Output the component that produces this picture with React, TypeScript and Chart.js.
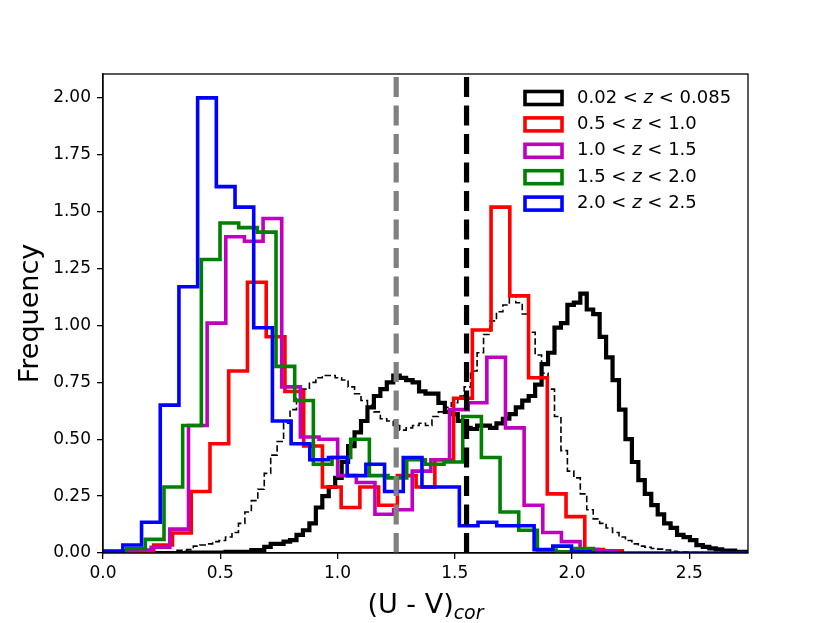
import { useEffect, useRef } from "react"
import { Chart, registerables } from "chart.js"

Chart.register(...registerables)

const FONT = "'DejaVu Sans', sans-serif"

const xTicks = [0, 0.5, 1.0, 1.5, 2.0, 2.5]
const yTicks = [0, 0.25, 0.5, 0.75, 1.0, 1.25, 1.5, 1.75, 2.0]

// 0.02 < z < 0.085 (thick black), fine bins
const lowZStart = 0
const lowZWidth = 0.0275
const lowZ = [
  0, 0, 0, 0, 0, 0, 0, 0, 0, 0,
  0, 0, 0, 0.002, 0.002, 0.002, 0.002, 0.002, 0.002, 0.005,
  0.005, 0.005, 0.005, 0.013, 0.013, 0.027, 0.04, 0.04, 0.05, 0.057,
  0.08, 0.1, 0.13, 0.2, 0.25, 0.29, 0.33, 0.4, 0.47, 0.53,
  0.58, 0.64, 0.69, 0.72, 0.75, 0.78, 0.77, 0.76, 0.75, 0.71,
  0.7, 0.7, 0.66, 0.62, 0.61, 0.58, 0.55, 0.545, 0.56, 0.56,
  0.55, 0.57, 0.59, 0.61, 0.64, 0.67, 0.69, 0.74, 0.83, 0.88,
  0.99, 1.01, 1.09, 1.1, 1.14, 1.07, 1.05, 0.95, 0.86, 0.76,
  0.63, 0.5, 0.4, 0.32, 0.26, 0.21, 0.17, 0.13, 0.11, 0.08,
  0.07, 0.057, 0.035, 0.027, 0.02, 0.016, 0.01, 0.01, 0.005, 0.005,
]

// thin dashed black, same bins
const lowZShifted = [
  0, 0, 0, 0, 0, 0, 0, 0, 0.003, 0.005,
  0.005, 0.012, 0.012, 0.015, 0.03, 0.035, 0.04, 0.05, 0.055, 0.07,
  0.09, 0.13, 0.18, 0.23, 0.28, 0.35, 0.43, 0.49, 0.57, 0.63,
  0.68, 0.72, 0.75, 0.77, 0.78, 0.78, 0.77, 0.76, 0.73, 0.7,
  0.67, 0.65, 0.62, 0.59, 0.58, 0.56, 0.54, 0.55, 0.56, 0.57,
  0.56, 0.6, 0.62, 0.64, 0.66, 0.69, 0.73, 0.8, 0.88, 0.96,
  1.02, 1.06, 1.09, 1.13, 1.1, 1.05, 0.97, 0.87, 0.79, 0.72,
  0.6, 0.45, 0.36, 0.33, 0.26, 0.19, 0.15, 0.13, 0.11, 0.09,
  0.07, 0.055, 0.04, 0.03, 0.025, 0.02, 0.017, 0.013, 0.008, 0.005,
  0.004, 0.002, 0.002, 0.001, 0.001, 0, 0, 0, 0, 0,
]

// 0.5 < z < 1.0
const redStart = 0.1365
const redWidth = 0.0799
const red = [
  0.005, 0.035, 0.088, 0.27, 0.48, 0.8, 1.19, 0.95, 0.71, 0.47, 0.29, 0.2, 0.29,
  0.21, 0.34, 0.29, 0.41, 0.68, 0.98, 1.52, 1.13, 0.77, 0.26, 0.16, 0.015, 0.01,
]

// 1.0 < z < 1.5
const magentaStart = -0.033
const magentaWidth = 0.0795
const magenta = [
  0.01, 0.005, 0.013, 0.025, 0.105, 0.56, 1.01, 1.39, 1.37, 1.47, 0.73, 0.51, 0.5, 0.34,
  0.31, 0.17, 0.19, 0.36, 0.41, 0.63, 0.66, 0.86, 0.55, 0.21, 0.09, 0.05, 0.015, 0.01,
]

// 1.5 < z < 2.0
const greenStart = -0.0583
const greenWidth = 0.0796
const green = [
  0.005, 0.01, 0.02, 0.06, 0.29, 0.56, 1.29, 1.45, 1.43, 1.41, 0.82, 0.67, 0.39, 0.42,
  0.5, 0.34, 0.33, 0.41, 0.39, 0.4, 0.6, 0.42, 0.18, 0.1, 0.013, 0.005, 0.02,
]

// 2.0 < z < 2.5
const blueStart = 0.005
const blueWidth = 0.0797
const blue = [
  0.005, 0.035, 0.135, 0.65, 1.17, 2.0, 1.61, 1.52, 0.99, 0.58, 0.48, 0.41, 0.42,
  0.34, 0.39, 0.27, 0.42, 0.29, 0.29, 0.12, 0.135, 0.12, 0.12, 0.015, 0.03, 0.005,
  0, 0, 0, 0, 0, 0, 0, 0, 0, 0,
]

const greyCut = 1.25
const blackCut = 1.55

const legendColors = ["#000000", "#ff0000", "#bf00bf", "#008000", "#0000ff"]
const legendRanges = [
  ["0.02", "0.085"],
  ["0.5", "1.0"],
  ["1.0", "1.5"],
  ["1.5", "2.0"],
  ["2.0", "2.5"],
]

const Y_MAX = 2.105

// outline of a step histogram: up at the first edge, across each bin, down at the last edge
function steps(start: number, width: number, values: number[]) {
  const pts = [{ x: start, y: 0 }]
  values.forEach((v, i) => {
    pts.push({ x: start + i * width, y: v })
    pts.push({ x: start + (i + 1) * width, y: v })
  })
  pts.push({ x: start + values.length * width, y: 0 })
  return pts
}

const decorPlugin = {
  id: "decor",
  afterDraw(chart: Chart) {
    const { ctx, chartArea: a } = chart
    ctx.save()

    // frame
    ctx.strokeStyle = "#000"
    ctx.lineWidth = 1.3
    ctx.strokeRect(a.left, a.top, a.right - a.left, a.bottom - a.top)

    // legend (step patches, italic z)
    ctx.textBaseline = "middle"
    ctx.textAlign = "left"
    legendRanges.forEach(([lo, hi], i) => {
      const y = 98 + i * 26.4
      ctx.strokeStyle = legendColors[i]
      ctx.lineWidth = 3.6
      ctx.strokeRect(525, y - 6.5, 37, 13)
      ctx.fillStyle = "#000"
      let x = 577
      const left = `${lo} < `
      ctx.font = `18px ${FONT}`
      ctx.fillText(left, x, y)
      x += ctx.measureText(left).width
      ctx.font = `italic 18px ${FONT}`
      ctx.fillText("z", x, y)
      x += ctx.measureText("z").width
      ctx.font = `18px ${FONT}`
      ctx.fillText(` < ${hi}`, x, y)
    })

    // x title with subscript
    ctx.textBaseline = "alphabetic"
    const main = "(U - V)"
    ctx.font = `27px ${FONT}`
    const wMain = ctx.measureText(main).width
    ctx.font = `italic 19px ${FONT}`
    const wSub = ctx.measureText("cor").width
    const x0 = (a.left + a.right) / 2 - (wMain + wSub) / 2
    ctx.font = `27px ${FONT}`
    ctx.fillText(main, x0, 613)
    ctx.font = `italic 19px ${FONT}`
    ctx.fillText("cor", x0 + wMain, 619)

    // y title
    ctx.translate(31, (a.top + a.bottom) / 2)
    ctx.rotate(-Math.PI / 2)
    ctx.textAlign = "center"
    ctx.textBaseline = "middle"
    ctx.font = `27px ${FONT}`
    ctx.fillText("Frequency", 0, 0)

    ctx.restore()
  },
}

function histDataset(data: { x: number; y: number }[], color: string, width: number, order: number, dash: number[] = []) {
  return {
    data,
    borderColor: color,
    backgroundColor: color,
    borderWidth: width,
    borderDash: dash,
    borderCapStyle: "butt" as const,
    borderJoinStyle: "miter" as const,
    pointRadius: 0,
    tension: 0,
    fill: false,
    order,
  }
}

export default function App() {
  const chartRef = useRef<HTMLCanvasElement>(null)
  const chartInstance = useRef<Chart | null>(null)

  useEffect(() => {
    if (!chartRef.current) return
    const ctx = chartRef.current.getContext("2d")
    if (!ctx) return

    if (chartInstance.current) {
      chartInstance.current.destroy()
    }

    chartInstance.current = new Chart(ctx, {
      type: "line",
      data: {
        datasets: [
          histDataset(steps(lowZStart, lowZWidth, lowZ), "#000000", 4.2, 7),
          histDataset(steps(lowZStart, lowZWidth, lowZShifted), "#000000", 1.6, 6, [6.5, 3]),
          histDataset(steps(redStart, redWidth, red), "#ff0000", 3.6, 5),
          histDataset(steps(magentaStart, magentaWidth, magenta), "#bf00bf", 3.6, 4),
          histDataset(steps(greenStart, greenWidth, green), "#008000", 3.6, 3),
          histDataset(steps(blueStart, blueWidth, blue), "#0000ff", 3.6, 2),
          histDataset([{ x: greyCut, y: 0 }, { x: greyCut, y: Y_MAX }], "#808080", 5.2, 1, [20, 8.5]),
          histDataset([{ x: blackCut, y: 0 }, { x: blackCut, y: Y_MAX }], "#000000", 5.2, 0, [20, 8.5]),
        ],
      },
      options: {
        responsive: false,
        animation: false,
        events: [],
        layout: { padding: { left: 0, top: 74, right: 82, bottom: 0 } },
        plugins: {
          legend: { display: false },
          tooltip: { enabled: false },
        },
        scales: {
          x: {
            type: "linear",
            min: 0,
            max: 2.75,
            afterFit: (scale: any) => {
              scale.height = 70
            },
            afterBuildTicks: (scale: any) => {
              scale.ticks = xTicks.map((value) => ({ value }))
            },
            ticks: {
              callback: (v: any) => Number(v).toFixed(1),
              font: { family: FONT, size: 17 },
              color: "#000",
              padding: 4,
              maxRotation: 0,
              autoSkip: false,
            },
            grid: { drawOnChartArea: false, drawTicks: true, tickLength: 6, color: "#000", lineWidth: 1.3 },
            border: { display: true, color: "#000", width: 1.3 },
          },
          y: {
            type: "linear",
            min: 0,
            max: Y_MAX,
            afterFit: (scale: any) => {
              scale.width = 103
            },
            afterBuildTicks: (scale: any) => {
              scale.ticks = yTicks.map((value) => ({ value }))
            },
            ticks: {
              callback: (v: any) => Number(v).toFixed(2),
              font: { family: FONT, size: 17 },
              color: "#000",
              padding: 6,
              autoSkip: false,
            },
            grid: { drawOnChartArea: false, drawTicks: true, tickLength: 6, color: "#000", lineWidth: 1.3 },
            border: { display: true, color: "#000", width: 1.3 },
          },
        },
      },
      plugins: [decorPlugin],
    })

    return () => {
      if (chartInstance.current) {
        chartInstance.current.destroy()
        chartInstance.current = null
      }
    }
  }, [])

  return (
    <div style={{ position: "absolute", left: 0, top: 0, width: 830, height: 623, background: "#fff" }}>
      <canvas ref={chartRef} width={830} height={623} />
    </div>
  )
}
